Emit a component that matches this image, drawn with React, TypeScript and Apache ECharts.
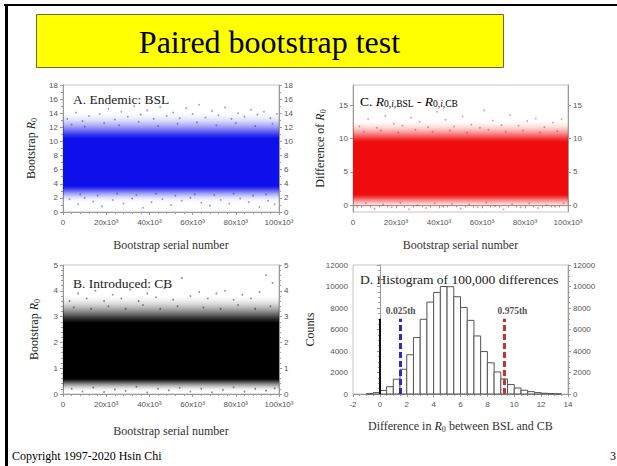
import React, { useEffect, useRef } from "react";
import * as echarts from "echarts";

const SERIF = '"Liberation Serif", "Times New Roman", serif';
const SANS = '"Liberation Sans", Arial, sans-serif';

// ---------- data ----------
const serialTicks = [0, 20000, 40000, 60000, 80000, 100000];
const serialMax = 100000;

// density band of each bootstrap cloud: [outer low, dense low, dense high, outer high]
const bslBand = [1.4, 3.7, 10.4, 14.0];
const diffBand = [-0.5, 1.6, 9.5, 12.6];
const cbBand = [0.1, 0.6, 2.75, 3.8];

// sparse points visible outside the dense cloud (serial number, value)
const bslSpeckles: [number, number][] = [
  [2000, 13.2], [6000, 14.1], [9000, 12.9], [12000, 13.6], [15000, 15.5], [17000, 13.9], [21000, 14.6],
  [24000, 13.1], [27000, 14.2], [30000, 13.5], [33000, 15.0], [36000, 13.8], [39000, 14.4], [42000, 13.2],
  [45000, 14.9], [48000, 13.6], [51000, 14.1], [54000, 13.3], [57000, 14.7], [60000, 13.9], [63000, 15.2],
  [66000, 13.4], [69000, 14.3], [72000, 13.7], [75000, 14.8], [78000, 13.2], [81000, 14.0], [84000, 13.5],
  [87000, 14.5], [90000, 13.8], [93000, 14.2], [96000, 13.3], [99000, 13.9],
  [4000, 12.4], [10000, 12.1], [19000, 12.6], [26000, 12.3], [35000, 12.8], [44000, 12.2], [53000, 12.5],
  [62000, 12.7], [71000, 12.3], [80000, 12.6], [89000, 12.2], [97000, 12.5],
  [3000, 1.8], [7000, 1.1], [10000, 2.0], [14000, 1.5], [18000, 0.8], [23000, 1.7], [28000, 1.2],
  [32000, 1.9], [37000, 0.6], [41000, 1.4], [46000, 1.8], [50000, 1.0], [55000, 1.6], [59000, 2.0],
  [64000, 1.3], [68000, 0.9], [73000, 1.7], [77000, 1.2], [82000, 1.9], [86000, 1.4], [91000, 0.7],
  [95000, 1.6], [98000, 1.1],
  [8000, 2.5], [16000, 2.3], [25000, 2.6], [34000, 2.4], [43000, 2.6], [52000, 2.3], [61000, 2.5],
  [70000, 2.4], [79000, 2.6], [88000, 2.3], [94000, 2.5],
];
const diffSpeckles: [number, number][] = [
  [3000, 11.8], [7000, 12.9], [11000, 11.6], [15000, 13.4], [19000, 12.2], [23000, 11.9], [27000, 13.1],
  [31000, 12.5], [35000, 11.7], [39000, 14.0], [43000, 12.8], [47000, 11.8], [51000, 13.3], [55000, 12.1],
  [59000, 11.6], [61000, 14.2], [65000, 12.7], [69000, 12.0], [73000, 13.5], [77000, 11.9], [81000, 12.6],
  [85000, 13.0], [89000, 11.7], [93000, 12.4], [97000, 12.9],
  [5000, 11.0], [13000, 11.2], [21000, 10.9], [29000, 11.3], [37000, 11.0], [45000, 11.2], [53000, 10.9],
  [63000, 11.3], [71000, 11.0], [79000, 11.2], [87000, 10.9], [95000, 11.1],
  [2000, -0.2], [6000, 0.3], [10000, -0.5], [14000, 0.1], [18000, -0.3], [22000, 0.4], [26000, -0.6],
  [30000, 0.0], [34000, -0.4], [38000, 0.3], [42000, -0.2], [46000, 0.2], [50000, -0.5], [54000, 0.1],
  [58000, -0.3], [62000, 0.4], [66000, -0.1], [70000, -0.6], [74000, 0.2], [78000, -0.3], [82000, 0.3],
  [86000, -0.4], [90000, 0.0], [94000, -0.2], [98000, 0.3],
];
const cbSpeckles: [number, number][] = [
  [3000, 3.6], [7000, 3.9], [11000, 3.7], [15000, 4.0], [19000, 3.6], [23000, 3.85], [27000, 3.7],
  [31000, 4.05], [35000, 3.6], [39000, 3.9], [43000, 3.75], [47000, 4.1], [51000, 3.65], [55000, 4.5],
  [59000, 3.8], [63000, 3.95], [67000, 3.7], [71000, 3.9], [75000, 4.0], [79000, 3.65], [83000, 3.85],
  [87000, 3.7], [91000, 3.95], [94000, 4.6], [97000, 4.3],
  [5000, 3.35], [13000, 3.3], [21000, 3.4], [29000, 3.3], [37000, 3.45], [45000, 3.3], [53000, 3.4],
  [65000, 3.35], [73000, 3.3], [81000, 3.45], [89000, 3.3], [96000, 3.4],
  [4000, 0.2], [9000, 0.1], [14000, 0.25], [19000, 0.08], [24000, 0.18], [29000, 0.12], [34000, 0.28],
  [39000, 0.06], [44000, 0.2], [49000, 0.14], [54000, 0.24], [59000, 0.1], [64000, 0.2], [69000, 0.07],
  [74000, 0.16], [79000, 0.26], [84000, 0.1], [89000, 0.2], [94000, 0.13], [98000, 0.22],
];

// histogram of differences (bin start, bin end, count)
const histBinStarts = [-1, -0.5, 0, 0.5, 1, 1.5, 2, 2.5, 3, 3.5, 4, 4.5, 5, 5.5, 6, 6.5, 7, 7.5, 8, 8.5, 9, 9.5, 10, 10.5, 11, 11.5, 12, 12.5, 13];
const histBinEnds = [-0.5, 0, 0.5, 1, 1.5, 2, 2.5, 3, 3.5, 4, 4.5, 5, 5.5, 6, 6.5, 7, 7.5, 8, 8.5, 9, 9.5, 10, 10.5, 11, 11.5, 12, 12.5, 13, 13.5];
const histCounts = [40, 130, 330, 680, 1380, 2300, 3650, 5250, 6950, 8550, 9450, 10000, 9980, 9050, 8050, 6850, 5400, 3950, 2900, 2050, 1400, 880, 560, 350, 220, 130, 70, 40, 15];
const nullValue = 0;
const ciLower = 1.55;
const ciUpper = 9.27;
const markerTop = 7000;

const yTicksDiff = [0, 5, 10, 15];

// ---------- helpers ----------
const rgba = (c: number[], a: number) => `rgba(${c[0]},${c[1]},${c[2]},${a})`;
// opacity profile of the fading edge, from the dense core outward
const edgeAlpha = [1, 0.85, 0.65, 0.45, 0.28, 0.14, 0.05, 0];

const richR = (size: number) => ({
  n: { fontFamily: SERIF, fontSize: size, color: "#222", lineHeight: size + 3 },
  i: { fontFamily: SERIF, fontSize: size, fontStyle: "italic", color: "#222", lineHeight: size + 3 },
  s: { fontFamily: SERIF, fontSize: size - 4, color: "#222", verticalAlign: "bottom", lineHeight: size - 3 },
  si: { fontFamily: SERIF, fontSize: size - 4, fontStyle: "italic", color: "#222", verticalAlign: "bottom", lineHeight: size - 3 },
});

const axisLineStyle = { color: "#9a9a9a", width: 1 };
const labelStyle = { fontFamily: SANS, fontSize: 8, color: "#555" };
const plainNumber = (v: number) => String(v);

function serialAxis(gridIndex: number, nameGap: number) {
  return {
    type: "value", gridIndex, min: 0, max: serialMax, interval: serialTicks[1] - serialTicks[0],
    name: "Bootstrap serial number", nameLocation: "middle", nameGap,
    nameTextStyle: { fontFamily: SERIF, fontSize: 12, color: "#333" },
    axisLine: { show: true, lineStyle: axisLineStyle },
    axisTick: { show: true, length: 3, lineStyle: axisLineStyle },
    minorTick: { show: true, splitNumber: 5, length: 2, lineStyle: axisLineStyle },
    axisLabel: {
      ...labelStyle, margin: 6, showMinLabel: true, showMaxLabel: true,
      formatter: (v: number) => (v === 0 ? "0" : `${v / 1000}x10³`),
    },
    splitLine: { show: false }, minorSplitLine: { show: false },
  };
}

function valueAxis(gridIndex: number, position: "left" | "right", opts: any) {
  const { name, nameGap, custom, minorSplit, ...rest } = opts;
  const ax: any = {
    type: "value", gridIndex, position,
    axisLine: { show: true, lineStyle: axisLineStyle },
    axisTick: { show: true, length: 3, lineStyle: axisLineStyle },
    minorTick: { show: !custom, splitNumber: minorSplit || 2, length: 2, lineStyle: axisLineStyle },
    axisLabel: { ...labelStyle, margin: 5, showMinLabel: true, showMaxLabel: true, formatter: plainNumber },
    splitLine: { show: false }, minorSplitLine: { show: false },
    ...rest,
  };
  if (custom) {
    ax.axisLabel.customValues = custom;
    ax.axisTick.customValues = custom;
  }
  if (position === "left" && name) {
    ax.name = name;
    ax.nameLocation = "middle";
    ax.nameGap = nameGap;
    ax.nameTextStyle = { fontFamily: SERIF, fontSize: 12, color: "#333", rich: richR(12) };
  }
  return ax;
}

// dense cloud drawn as one rect whose fill fades out through the sparse edges
function bandSeries(xi: number, yi: number, band: number[], c: number[]) {
  return {
    type: "custom", xAxisIndex: xi, yAxisIndex: yi, silent: true, z: 1,
    data: [[0, serialMax, ...band]],
    encode: { x: [0, 1], y: [2, 5] },
    renderItem: (params: any, api: any) => {
      const x0 = api.value(0), x1 = api.value(1);
      const outLo = api.value(2), coreLo = api.value(3), coreHi = api.value(4), outHi = api.value(5);
      const pTop = api.coord([x0, outHi]);
      const pBot = api.coord([x1, outLo]);
      const yCoreHi = api.coord([x0, coreHi])[1];
      const yCoreLo = api.coord([x0, coreLo])[1];
      const h = pBot[1] - pTop[1];
      const oHi = (yCoreHi - pTop[1]) / h;
      const oLo = (yCoreLo - pTop[1]) / h;
      const n = edgeAlpha.length - 1;
      const stops: any[] = [];
      for (let k = n; k >= 0; k--) stops.push({ offset: oHi * (1 - k / n), color: rgba(c, edgeAlpha[k]) });
      for (let k = 0; k <= n; k++) stops.push({ offset: oLo + (1 - oLo) * (k / n), color: rgba(c, edgeAlpha[k]) });
      return {
        type: "rect",
        shape: { x: pTop[0], y: pTop[1], width: pBot[0] - pTop[0], height: h },
        style: { fill: new echarts.graphic.LinearGradient(0, 0, 0, 1, stops), stroke: null, lineWidth: 0 },
      };
    },
  };
}

function buildOption(): any {
  const blue = [15, 15, 235];
  const red = [240, 12, 12];
  const black = [0, 0, 0];

  const histData = histBinStarts.map((s, k) => [s, histBinEnds[k], histCounts[k]]);

  const markerLabel = (text: string, dx: number) => ({
    show: true, position: "end", formatter: text, distance: 3, offset: [dx, 0],
    fontFamily: SERIF, fontSize: 9.5, fontWeight: "bold", color: "#555",
  });

  const speckles = (xi: number, yi: number, data: [number, number][], c: number[]) => ({
    type: "scatter", xAxisIndex: xi, yAxisIndex: yi, data, symbolSize: 1.8, z: 2,
    itemStyle: { color: rgba(c, 0.55) }, silent: true,
  });

  return {
    animation: false,
    backgroundColor: "#fff",
    grid: [
      { left: 63, top: 85, width: 216, height: 127, show: true, borderColor: "#c4c4c4", borderWidth: 1, outerBoundsMode: "none" },
      { left: 353, top: 85, width: 215, height: 127, show: true, borderColor: "#c4c4c4", borderWidth: 1, outerBoundsMode: "none" },
      { left: 63, top: 265, width: 216, height: 129, show: true, borderColor: "#c4c4c4", borderWidth: 1, outerBoundsMode: "none" },
      { left: 353, top: 265, width: 215, height: 129, show: true, borderColor: "#c4c4c4", borderWidth: 1, outerBoundsMode: "none" },
    ],
    xAxis: [
      serialAxis(0, 27),
      serialAxis(1, 27),
      serialAxis(2, 31),
      {
        type: "value", gridIndex: 3, min: -2, max: 14, interval: 2,
        name: "Difference in {i|R}{s|0} between BSL and CB", nameLocation: "middle", nameGap: 24,
        nameTextStyle: { fontFamily: SERIF, fontSize: 12, color: "#333", rich: richR(12) },
        axisLine: { show: true, lineStyle: axisLineStyle },
        axisTick: { show: true, length: 3, lineStyle: axisLineStyle },
        minorTick: { show: true, splitNumber: 4, length: 2, lineStyle: axisLineStyle },
        axisLabel: { ...labelStyle, margin: 6, showMinLabel: true, showMaxLabel: true, formatter: plainNumber },
        splitLine: { show: false }, minorSplitLine: { show: false },
      },
    ],
    yAxis: [
      valueAxis(0, "left", { min: 0, max: 18, interval: 2, minorSplit: 2, name: "{n|Bootstrap }{i|R}{s|0}", nameGap: 25 }),
      valueAxis(0, "right", { min: 0, max: 18, interval: 2, minorSplit: 2 }),
      valueAxis(1, "left", { min: -1, max: 18, custom: yTicksDiff, name: "{n|Difference of }{i|R}{s|0}", nameGap: 26 }),
      valueAxis(1, "right", { min: -1, max: 18, custom: yTicksDiff }),
      valueAxis(2, "left", { min: 0, max: 5, interval: 1, minorSplit: 5, name: "{n|Bootstrap }{i|R}{s|0}", nameGap: 22 }),
      valueAxis(2, "right", { min: 0, max: 5, interval: 1, minorSplit: 5 }),
      valueAxis(3, "left", { min: 0, max: 12000, interval: 2000, minorSplit: 4, name: "{n|Counts}", nameGap: 36 }),
      valueAxis(3, "right", { min: 0, max: 12000, interval: 2000, minorSplit: 4 }),
    ],
    series: [
      bandSeries(0, 0, bslBand, blue),
      speckles(0, 0, bslSpeckles, blue),
      bandSeries(1, 2, diffBand, red),
      speckles(1, 2, diffSpeckles, red),
      bandSeries(2, 4, cbBand, black),
      speckles(2, 4, cbSpeckles, black),
      {
        type: "custom", xAxisIndex: 3, yAxisIndex: 6, data: histData, silent: true,
        encode: { x: [0, 1], y: 2 },
        renderItem: (params: any, api: any) => {
          const p0 = api.coord([api.value(0), api.value(2)]);
          const p1 = api.coord([api.value(1), 0]);
          return {
            type: "rect",
            shape: { x: p0[0], y: p0[1], width: p1[0] - p0[0], height: p1[1] - p0[1] },
            style: { fill: "#fff", stroke: "#555", lineWidth: 1 },
          };
        },
        markLine: {
          silent: true, symbol: "none", animation: false,
          data: [
            [
              { coord: [nullValue, 0], lineStyle: { color: "#111", width: 2, type: "solid" }, label: { show: false } },
              { coord: [nullValue, markerTop] },
            ],
            [
              { coord: [ciLower, 0], lineStyle: { color: "#2a2ad0", width: 3, type: [6, 3] }, label: markerLabel("0.025th", 0) },
              { coord: [ciLower, markerTop] },
            ],
            [
              { coord: [ciUpper, 0], lineStyle: { color: "#c83232", width: 3, type: [6, 3] }, label: markerLabel("0.975th", 8) },
              { coord: [ciUpper, markerTop] },
            ],
          ],
        },
      },
    ],
    graphic: [
      { type: "rect", left: 4, top: 4, shape: { width: 613, height: 2 }, style: { fill: "#000" }, silent: true },
      { type: "rect", left: 5, top: 4, shape: { width: 3, height: 462 }, style: { fill: "#000" }, silent: true },
      { type: "rect", left: 36, top: 14, shape: { width: 467, height: 53 }, style: { fill: "#ffff00", stroke: "#6b6b3a", lineWidth: 1 }, silent: true },
      {
        type: "text", x: 269.5, y: 42, silent: true,
        style: { text: "Paired bootstrap test", fontFamily: SERIF, fontSize: 32, fill: "#000", textAlign: "center", textVerticalAlign: "middle" },
      },
      {
        type: "text", x: 73, y: 99, silent: true,
        style: { text: "A. Endemic: BSL", fontFamily: SERIF, fontSize: 13.5, fill: "#222", textVerticalAlign: "middle" },
      },
      {
        type: "text", x: 360, y: 101, silent: true,
        style: {
          text: "{n|C. }{i|R}{s|0,}{si|i}{s|,BSL}{n| - }{i|R}{s|0,}{si|i}{s|,CB}",
          rich: richR(13.5), textVerticalAlign: "middle",
        },
      },
      {
        type: "text", x: 73, y: 283, silent: true,
        style: { text: "B. Introduced: CB", fontFamily: SERIF, fontSize: 13.5, fill: "#222", textVerticalAlign: "middle" },
      },
      {
        type: "text", x: 360, y: 279, silent: true,
        style: { text: "D. Histogram of 100,000 differences", fontFamily: SERIF, fontSize: 13.5, fill: "#222", textVerticalAlign: "middle" },
      },
      {
        type: "text", x: 12, y: 456, silent: true,
        style: { text: "Copyright 1997-2020 Hsin Chi", fontFamily: SERIF, fontSize: 12, fill: "#000", textVerticalAlign: "middle" },
      },
      {
        type: "text", x: 616, y: 456, silent: true,
        style: { text: "3", fontFamily: SERIF, fontSize: 12, fill: "#000", textAlign: "right", textVerticalAlign: "middle" },
      },
    ],
  };
}

export default function App() {
  const ref = useRef<HTMLDivElement>(null);
  useEffect(() => {
    const chart = echarts.init(ref.current!, null, { renderer: "svg" });
    chart.setOption(buildOption());
    return () => chart.dispose();
  }, []);
  return (
    <div
      ref={ref}
      style={{ position: "absolute", left: 0, top: 0, width: 617, height: 466, background: "#fff" }}
    />
  );
}
